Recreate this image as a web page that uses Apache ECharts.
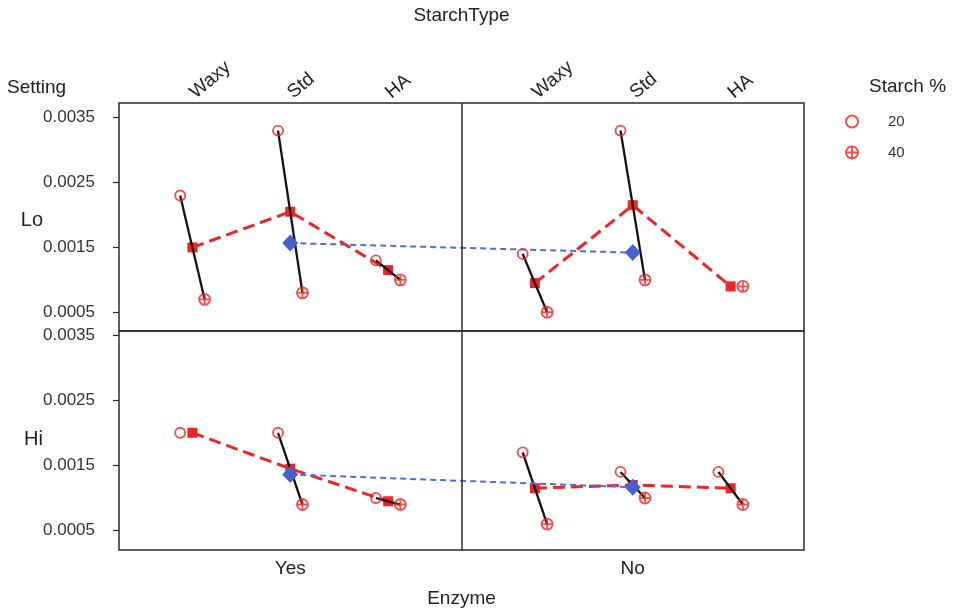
<!DOCTYPE html>
<html>
<head>
<meta charset="utf-8">
<script src="https://cdn.jsdelivr.net/npm/echarts@6.0.0/dist/echarts.min.js"></script>
<style>
  html, body { margin: 0; padding: 0; background: #ffffff; }
  #chart { width: 956px; height: 613px; }
</style>
</head>
<body>
<div id="chart"></div>
<script>
// Factor levels
const starchTypes = ['Waxy', 'Std', 'HA'];
const enzymeLevels = ['Yes', 'No'];
const settingLevels = ['Lo', 'Hi'];
const starchPercents = ['20', '40'];
const yTickValues = [0.0005, 0.0015, 0.0025, 0.0035];

// Responses per StarchType (Waxy, Std, HA); null = no observation
const loYes20 = [0.0023, 0.0033, 0.0013];
const loYes40 = [0.0007, 0.0008, 0.0010];
const loNo20  = [0.0014, 0.0033, null];
const loNo40  = [0.0005, 0.0010, 0.0009];
const hiYes20 = [0.0020, 0.0020, 0.0010];
const hiYes40 = [null, 0.0009, 0.0009];
const hiNo20  = [0.0017, 0.0014, 0.0014];
const hiNo40  = [0.0006, 0.0010, 0.0009];

const cells = {
  Lo: { Yes: [loYes20, loYes40], No: [loNo20, loNo40] },
  Hi: { Yes: [hiYes20, hiYes40], No: [hiNo20, hiNo40] }
};

// Layout on the shared x scale: each Enzyme panel is 3.5 units wide
const PANEL_W = 3.5, FIRST = 0.75, OFFSET = 0.125;
const groupX = (e, t) => e * PANEL_W + FIRST + t;
const panelMid = e => e * PANEL_W + FIRST + 1;

const RED = '#f02424', BLUE = '#4862cc', BLUE_LINE = '#4a6ee0', INK = '#2a2a2a';
const FONT = '"Liberation Sans", Arial, Helvetica, sans-serif';
const crossCircle = 'path://M10,0 A10,10 0 1 1 10,20 A10,10 0 1 1 10,0 Z M0,10 L20,10 M10,0 L10,20';

const mean = arr => {
  const v = arr.filter(x => x !== null);
  return v.reduce((a, b) => a + b, 0) / v.length;
};

const series = [];
settingLevels.forEach((s, row) => {
  const ax = { xAxisIndex: row, yAxisIndex: row };
  const p20 = [], p40 = [], overall = [];
  enzymeLevels.forEach((e, ei) => {
    const [v20, v40] = cells[s][e];
    const means = [];
    starchTypes.forEach((t, ti) => {
      const cx = groupX(ei, ti);
      const pair = [];
      if (v20[ti] !== null) { pair.push([cx - OFFSET, v20[ti]]); p20.push([cx - OFFSET, v20[ti]]); }
      if (v40[ti] !== null) { pair.push([cx + OFFSET, v40[ti]]); p40.push([cx + OFFSET, v40[ti]]); }
      means.push([cx, mean([v20[ti], v40[ti]])]);
      // range line between the two Starch % levels
      series.push(Object.assign({
        type: 'line', data: pair, symbol: 'none', z: 3, silent: true,
        lineStyle: { color: '#111', width: 2.3 }
      }, ax));
    });
    // cell means across StarchType
    series.push(Object.assign({
      type: 'line', data: means, symbol: 'rect', symbolSize: 10, z: 2, silent: true,
      itemStyle: { color: RED },
      lineStyle: { color: RED, width: 3, type: [12, 6] }
    }, ax));
    overall.push([panelMid(ei), mean(v20.concat(v40))]);
  });
  // Enzyme means with panel divider
  series.push(Object.assign({
    type: 'line', data: overall, symbol: 'diamond', symbolSize: [16, 17], z: 4, silent: true,
    itemStyle: { color: BLUE },
    lineStyle: { color: BLUE_LINE, width: 2, type: [6, 4] },
    markLine: {
      silent: true, symbol: 'none', label: { show: false },
      lineStyle: { color: INK, width: 1.5, type: 'solid' },
      data: [{ xAxis: PANEL_W }]
    }
  }, ax));
  series.push(Object.assign({
    name: starchPercents[0], type: 'scatter', data: p20, symbol: 'circle', symbolSize: 10, z: 5,
    itemStyle: { color: 'rgba(255,255,255,0)', borderColor: RED, borderWidth: 1.9 }
  }, ax));
  series.push(Object.assign({
    name: starchPercents[1], type: 'scatter', data: p40, symbol: crossCircle, symbolSize: 11, z: 5,
    itemStyle: { color: 'rgba(255,255,255,0)', borderColor: RED, borderWidth: 1.9 }
  }, ax));
});

const topCenters = [], topNames = [];
enzymeLevels.forEach((e, ei) => starchTypes.forEach((t, ti) => {
  topCenters.push(groupX(ei, ti)); topNames.push(t);
}));
const nearest = (vals, names, v) => {
  let best = 0;
  vals.forEach((x, i) => { if (Math.abs(x - v) < Math.abs(vals[best] - v)) best = i; });
  return names[best];
};
const enzCenters = enzymeLevels.map((e, ei) => panelMid(ei));

const yAxisBase = {
  type: 'value',
  axisLine: { show: false },
  splitLine: { show: false },
  axisTick: { show: true, length: 6, customValues: yTickValues, lineStyle: { color: INK, width: 1.2 } },
  axisLabel: {
    customValues: yTickValues, margin: 24, fontSize: 17, color: '#333', fontFamily: FONT,
    formatter: v => v.toFixed(4)
  }
};

const option = {
  animation: false,
  backgroundColor: '#ffffff',
  textStyle: { fontFamily: FONT },
  grid: [
    { left: 119, top: 103, width: 685, height: 228, show: true, borderColor: INK, borderWidth: 1.5, backgroundColor: 'transparent' },
    { left: 119, top: 331, width: 685, height: 219, show: true, borderColor: INK, borderWidth: 1.5, backgroundColor: 'transparent' }
  ],
  xAxis: [
    {
      gridIndex: 0, type: 'value', min: 0, max: 2 * PANEL_W, position: 'top',
      axisLine: { show: false }, axisTick: { show: false }, splitLine: { show: false },
      axisLabel: {
        customValues: topCenters, rotate: -40, margin: 8, fontSize: 19, color: '#222', fontFamily: FONT,
        formatter: v => nearest(topCenters, topNames, v)
      },
      name: 'StarchType', nameLocation: 'middle', nameGap: 78,
      nameTextStyle: { fontSize: 19, color: '#222', fontFamily: FONT }
    },
    {
      gridIndex: 1, type: 'value', min: 0, max: 2 * PANEL_W, position: 'bottom',
      axisLine: { show: false }, axisTick: { show: false }, splitLine: { show: false },
      axisLabel: {
        customValues: enzCenters, margin: 9, fontSize: 19, color: '#222', fontFamily: FONT,
        formatter: v => nearest(enzCenters, enzymeLevels, v)
      },
      name: 'Enzyme', nameLocation: 'middle', nameGap: 39,
      nameTextStyle: { fontSize: 19, color: '#222', fontFamily: FONT }
    }
  ],
  yAxis: [
    Object.assign({ gridIndex: 0, min: 0.000212, max: 0.003725 }, yAxisBase),
    Object.assign({ gridIndex: 1, min: 0.000203, max: 0.00356 }, yAxisBase)
  ],
  legend: {
    data: starchPercents, orient: 'vertical', left: 840, top: 109,
    itemWidth: 12, itemHeight: 12, itemGap: 16,
    textStyle: { fontSize: 15, color: '#333', fontFamily: FONT, padding: [0, 0, 0, 25] },
    selectedMode: false
  },
  graphic: [
    { type: 'text', x: 7, y: 88, style: { text: 'Setting', fontSize: 19, fontFamily: FONT, fill: '#222', align: 'left', verticalAlign: 'middle' } },
    { type: 'text', x: 43, y: 220, style: { text: settingLevels[0], fontSize: 20, fontFamily: FONT, fill: '#222', align: 'right', verticalAlign: 'middle' } },
    { type: 'text', x: 43, y: 439, style: { text: settingLevels[1], fontSize: 20, fontFamily: FONT, fill: '#222', align: 'right', verticalAlign: 'middle' } },
    { type: 'text', x: 869, y: 87, style: { text: 'Starch %', fontSize: 19, fontFamily: FONT, fill: '#222', align: 'left', verticalAlign: 'middle' } }
  ],
  series: series
};

const chart = echarts.init(document.getElementById('chart'), null, { renderer: 'canvas' });
chart.setOption(option);
</script>
</body>
</html>
